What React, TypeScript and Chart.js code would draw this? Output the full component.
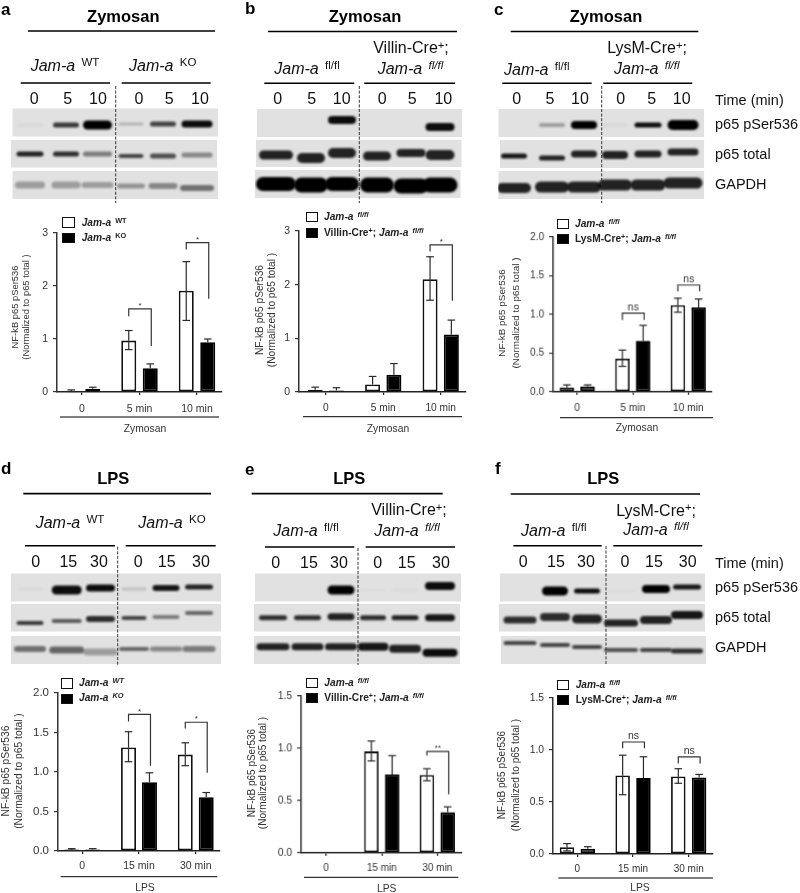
import React, { useEffect, useRef } from "react";
import { Chart, registerables } from "chart.js";

Chart.register(...registerables);

// ---------- chart data ----------
const zymosanTimes = ["0", "5 min", "10 min"];
const lpsTimes = ["0", "15 min", "30 min"];

const aWhite = [0.02, 0.97, 1.91];
const aBlack = [0.06, 0.45, 0.94];
const aWhiteHi = [0.04, 1.16, 2.46];
const aWhiteLo = [0.01, 0.8, 1.35];
const aBlackHi = [0.09, 0.53, 1.0];

const bWhite = [0.04, 0.14, 2.1];
const bBlack = [0.03, 0.32, 1.07];
const bWhiteHi = [0.09, 0.29, 2.52];
const bWhiteLo = [0.0, 0.0, 1.71];
const bBlackHi = [0.08, 0.53, 1.34];

const cWhite = [0.06, 0.43, 1.12];
const cBlack = [0.07, 0.66, 1.09];
const cWhiteHi = [0.09, 0.54, 1.21];
const cWhiteLo = [0.04, 0.33, 1.03];
const cBlackHi = [0.09, 0.86, 1.2];

const dWhite = [0.02, 1.31, 1.22];
const dBlack = [0.02, 0.87, 0.68];
const dWhiteHi = [0.03, 1.51, 1.37];
const dWhiteLo = [0.01, 1.13, 1.08];
const dBlackHi = [0.03, 0.99, 0.74];

const eWhite = [0, 0.97, 0.745];
const eBlack = [0, 0.75, 0.39];
const eWhiteHi = [0, 1.07, 0.805];
const eWhiteLo = [0, 0.88, 0.69];
const eBlackHi = [0, 0.93, 0.44];

const fWhite = [0.065, 0.755, 0.745];
const fBlack = [0.05, 0.73, 0.735];
const fWhiteHi = [0.1, 0.95, 0.82];
const fWhiteLo = [0.03, 0.57, 0.68];
const fBlackHi = [0.07, 0.935, 0.765];

// group, top of bracket, end of left leg, end of right leg, label
const aBrackets = [[1, 1.57, 1.43, 0.87, "*"], [2, 2.82, 2.69, 1.76, "*"]];
const bBrackets = [[2, 2.74, 2.62, 1.7, "*"]];
const cBrackets = [[1, 1.017, 0.93, 0.93, "ns"], [2, 1.38, 1.3, 1.3, "ns"]];
const dBrackets = [[1, 1.73, 1.64, 1.08, "*"], [2, 1.63, 1.55, 0.99, "*"]];
const eBrackets = [[2, 0.97, 0.93, 0.56, "**"]];
const fBrackets = [[1, 1.077, 1.016, 1.016, "ns"], [2, 0.933, 0.87, 0.87, "ns"]];

// ---------- blot band readings: [darkness, thickness, shift] per lane ----------
const aBands = [
  [[0.03, 3, 0], [0.75, 4, 0], [1, 8, 0], [0.2, 2, -1], [0.7, 4, -1], [0.95, 6, -1]],
  [[0.85, 4, 0], [0.8, 4, 0], [0.45, 4, 0], [0.7, 3, 2], [0.65, 4, 2], [0.4, 4, 1]],
  [[0.3, 6, 0], [0.3, 6, 0], [0.3, 5, 0], [0.35, 4, 1], [0.4, 5, 1], [0.5, 5, 3]],
];
const bBands = [
  [[0, 1, 0], [0, 1, 0], [0.95, 7, 0], [0, 1, 0], [0, 1, 0], [0.95, 7, 7]],
  [[0.85, 8, 0], [0.85, 9, 3], [0.85, 9, -2], [0.85, 8, 1], [0.85, 7, -2], [0.85, 9, 0]],
  [[1, 13, 0], [1, 14, 1], [1, 13, 0], [1, 14, 1], [1, 14, 2], [1, 14, 1]],
];
const cBands = [
  [[0, 1, 0], [0.3, 3, 0], [1, 7, 0], [0.03, 3, 0], [0.95, 4, 0], [1, 9, 0]],
  [[0.9, 4, 2], [0.85, 4, 4], [0.85, 6, 0], [0.85, 7, 1], [0.85, 6, 0], [0.85, 6, -2]],
  [[0.85, 9, 3], [0.85, 10, 2], [0.85, 10, 2], [0.85, 10, 0], [0.85, 10, 0], [0.85, 10, -2]],
];
const dBands = [
  [[0.03, 2, 0], [0.95, 8, 1], [0.95, 6, -1], [0.15, 2, 0], [0.9, 5, -1], [0.85, 4, -2]],
  [[0.75, 3, 3], [0.6, 3, 1], [0.8, 5, -1], [0.7, 3, -2], [0.45, 3, -3], [0.55, 3, -7]],
  [[0.5, 5, 0], [0.55, 6, 1], [0.3, 6, 3], [0.55, 3, 0], [0.4, 4, 0], [0.45, 5, 0]],
];
const eBands = [
  [[0, 1, 0], [0, 1, 0], [1, 8, 0], [0.02, 2, 0], [0.03, 2, 0], [0.95, 7, -4]],
  [[0.8, 4, 0], [0.8, 4, 0], [0.85, 6, -1], [0.8, 4, 0], [0.85, 4, 0], [0.9, 6, 0]],
  [[0.85, 6, 0], [0.85, 6, 0], [0.85, 6, 0], [0.9, 7, 0], [0.85, 7, 2], [0.95, 7, 6]],
];
const fBands = [
  [[0, 1, 0], [1, 8, 0], [0.95, 4, 0], [0.02, 2, 0], [1, 7, -2], [0.9, 4, -4]],
  [[0.8, 6, 0], [0.8, 7, -3], [0.85, 8, -1], [0.85, 6, 3], [0.85, 7, 0], [0.9, 7, -5]],
  [[0.7, 3, -6], [0.7, 3, -4], [0.7, 3, -2], [0.65, 3, 1], [0.7, 3, 1], [0.8, 4, 2]],
];

// ---------- page layout ----------
const FONT = '"Liberation Sans", Arial, sans-serif';
const INK = "#111";
const SOFT = "#333";

const PANELS: any[] = [
  {
    id: "a", cats: zymosanTimes, white: aWhite, black: aBlack, wHi: aWhiteHi, wLo: aWhiteLo, bHi: aBlackHi, brackets: aBrackets,
    yMax: 3, step: 1, dec: 0, left: 57, right: 222, top: 233.3, bottom: 392.3, c0: 82, c2: 197, pitch: 21.5, barW: 15,
    yFont: 10.5, xFont: 10.5, tickY: 408,
    ulX: [60, 219], ulY: 417, xName: "Zymosan", xNameX: 145, xNameY: 429, nameSize: 10.3,
    yT: [14.7, 26, 306.7, 9.4],
    lgd: { sx: 62, sw: 13, y1: [217, 228], y2: [233, 243], tx: 81.7, t1: 222.7, t2: 237.7 }, lgdKind: "wt",
    bands: aBands, rowY: [125, 154, 185], lanes: [30, 66, 97.5, 131, 163, 197], laneW: [27, 26, 29, 25, 26, 31], widen: [0, 0, 3],
    rows: [[12.3, 218.3, 108.3, 136.7], [11, 217.3, 140, 167.7], [12.3, 218.3, 171, 199]],
    dash: [115.7, 86, 203],
    letter: ["a", 1, 9], title: ["Zymosan", 123.3, 16], titleLine: [28, 215, 31],
    groupLines: [[20.7, 110, 83], [121.7, 210.7, 83]],
    times: [["0", 34.3], ["5", 67.7], ["10", 98], ["0", 139], ["5", 169.3], ["10", 200]], timeY: 99,
    g1: [30.7, 65.7, "WT"], g2: [129, 65.7, "KO"],
  },
  {
    id: "b", cats: zymosanTimes, white: bWhite, black: bBlack, wHi: bWhiteHi, wLo: bWhiteLo, bHi: bBlackHi, brackets: bBrackets,
    yMax: 3, step: 1, dec: 0, left: 299, right: 466, top: 231, bottom: 392.3, c0: 325.8, c2: 440.7, pitch: 21.3, barW: 15,
    yFont: 10.5, xFont: 10.2, tickY: 407,
    ulX: [303, 462], ulY: 416.7, xName: "Zymosan", xNameX: 388, xNameY: 429, nameSize: 10.3,
    yT: [259.5, 272, 310, 10.2],
    lgd: { sx: 305.7, sw: 12.6, y1: [212, 222], y2: [228, 238], tx: 324, t1: 217, t2: 233 }, lgdKind: "villin",
    bands: bBands, rowY: [120, 155, 184], lanes: [276, 311, 342, 377, 411, 440], laneW: [34, 28, 28, 28, 29, 29], widen: [0, 0, 6],
    rows: [[256.7, 462.3, 109, 137], [255.7, 461.7, 139.5, 167], [255, 460.7, 170, 198]],
    dash: [359.3, 86, 203],
    letter: ["b", 245, 8], title: ["Zymosan", 365, 16], titleLine: [268, 457, 31.5],
    groupLines: [[264.3, 354.3, 83.3], [364.3, 455, 83.3]],
    times: [["0", 277.7], ["5", 311.7], ["10", 341.7], ["0", 382.3], ["5", 412.3], ["10", 443.3]], timeY: 99.3,
    g1: [274.3, 69, "fl/fl"], g2: [377.7, 69, "fl/fl"], cre: ["Villin-Cre", 411, 48.3],
  },
  {
    id: "c", cats: zymosanTimes, white: cWhite, black: cBlack, wHi: cWhiteHi, wLo: cWhiteLo, bHi: cBlackHi, brackets: cBrackets,
    yMax: 2, step: 0.5, dec: 1, left: 553.3, right: 711.7, top: 237.3, bottom: 392, c0: 577.3, c2: 688, pitch: 20.7, barW: 14.5,
    yFont: 10, xFont: 10.2, tickY: 407,
    ulX: [560, 713], ulY: 417.7, xName: "Zymosan", xNameX: 637, xNameY: 428, nameSize: 10.3,
    yT: [502, 516, 313, 9.9],
    lgd: { sx: 556.7, sw: 12.4, y1: [219, 228.5], y2: [234, 244], tx: 575, t1: 224, t2: 239 }, lgdKind: "lysm",
    bands: cBands, rowY: [125, 154, 185], lanes: [514, 552, 584, 615, 648, 683], laneW: [26, 26, 26, 26, 27, 31], widen: [0, 0, 8],
    rows: [[498.3, 704.3, 109, 137], [500, 704.3, 140, 168], [498.3, 704.3, 171, 199]],
    dash: [601.7, 86, 203],
    letter: ["c", 494, 9], title: ["Zymosan", 606, 16], titleLine: [510.7, 698.3, 31.5],
    groupLines: [[502.3, 591.7, 83.3], [603.3, 692.3, 83.3]],
    times: [["0", 516.7], ["5", 550], ["10", 580], ["0", 620.7], ["5", 651.7], ["10", 681.7]], timeY: 99,
    g1: [504, 70, "fl/fl"], g2: [614, 69, "fl/fl"], cre: ["LysM-Cre", 647, 48],
    side: [[100, "Time (min)"], [124, "p65 pSer536"], [153.7, "p65 total"], [184, "GAPDH"]],
  },
  {
    id: "d", cats: lpsTimes, white: dWhite, black: dBlack, wHi: dWhiteHi, wLo: dWhiteLo, bHi: dBlackHi, brackets: dBrackets,
    yMax: 2, step: 0.5, dec: 1, left: 57.7, right: 220, top: 692.7, bottom: 851.3, c0: 82, c2: 195.7, pitch: 21, barW: 15,
    yFont: 11.5, xFont: 10.5, tickY: 865.7,
    ulX: [60.7, 217.3], ulY: 876.7, xName: "LPS", xNameX: 145, xNameY: 888, nameSize: 10.3,
    yT: [6, 18.7, 771, 10.3],
    lgd: { sx: 60.7, sw: 12, y1: [678, 689], y2: [694, 704], tx: 79, t1: 683, t2: 698 }, lgdKind: "wtItalic",
    bands: dBands, rowY: [589, 620, 649], lanes: [30, 66.7, 100.5, 134, 166, 199], laneW: [27, 30, 29, 25, 27, 28], widen: [0, 0, 5],
    rows: [[11, 221, 573.3, 601.7], [11, 221, 603.7, 631.7], [11, 221, 635.7, 664]],
    dash: [117.7, 546.7, 665],
    letter: ["d", 1, 468], title: ["LPS", 113.3, 478.3], titleLine: [23.3, 211, 493.7],
    groupLines: [[25, 115, 545.7], [125.7, 215.7, 545.7]],
    times: [["0", 35.7], ["15", 68.3], ["30", 99], ["0", 138.3], ["15", 166.7], ["30", 201]], timeY: 561.7,
    g1: [35.7, 523, "WT"], g2: [138.3, 523, "KO"],
  },
  {
    id: "e", cats: lpsTimes, white: eWhite, black: eBlack, wHi: eWhiteHi, wLo: eWhiteLo, bHi: eBlackHi, brackets: eBrackets,
    yMax: 1.5, step: 0.5, dec: 1, left: 301, right: 461.7, top: 696, bottom: 852.7, c0: 326, c2: 437, pitch: 20.8, barW: 14.5,
    yFont: 10.3, xFont: 10, tickY: 866.7,
    ulX: [304, 458.3], ulY: 877.3, xName: "LPS", xNameX: 386.7, xNameY: 888.7, nameSize: 10.3,
    yT: [251.7, 263.3, 773, 10],
    lgd: { sx: 306, sw: 12, y1: [678, 688], y2: [693, 703], tx: 324.3, t1: 683, t2: 698 }, lgdKind: "villin",
    bands: eBands, rowY: [590, 617.7, 646.7], lanes: [273, 307.5, 341, 373, 405, 440], laneW: [28, 27, 27, 26, 27, 30], widen: [0, 0, 5],
    rows: [[255, 461, 573.3, 601.7], [254, 460, 603.7, 631.7], [254, 460, 635.7, 664]],
    dash: [358, 548, 665],
    letter: ["e", 245, 469], title: ["LPS", 349.3, 478], titleLine: [251.7, 442.7, 493.7],
    groupLines: [[265, 354.3, 547], [365.7, 455, 547]],
    times: [["0", 275.7], ["15", 309], ["30", 339], ["0", 377.7], ["15", 406.7], ["30", 441]], timeY: 563.3,
    g1: [273.3, 531, "fl/fl"], g2: [374.3, 531, "fl/fl"], cre: ["Villin-Cre", 409, 510],
  },
  {
    id: "f", cats: lpsTimes, white: fWhite, black: fBlack, wHi: fWhiteHi, wLo: fWhiteLo, bHi: fBlackHi, brackets: fBrackets,
    yMax: 1.5, step: 0.5, dec: 1, left: 553.3, right: 713.3, top: 698.3, bottom: 854.3, c0: 577.7, c2: 689, pitch: 20.8, barW: 14.5,
    yFont: 10.3, xFont: 10, tickY: 869,
    ulX: [558.3, 713], ulY: 878, xName: "LPS", xNameX: 640, xNameY: 888, nameSize: 10.3,
    yT: [502.3, 515.7, 775, 10],
    lgd: { sx: 556.7, sw: 12.4, y1: [680, 690], y2: [695, 704.5], tx: 575.7, t1: 685, t2: 700 }, lgdKind: "lysm",
    bands: fBands, rowY: [591, 620, 649], lanes: [520, 555, 587, 621, 656, 687], laneW: [29, 26, 26, 30, 28, 28], widen: [0, 4, 4],
    rows: [[500, 705, 573.3, 601.7], [499, 705, 603.7, 631.7], [500.7, 706, 635.7, 664]],
    dash: [606, 546, 665],
    letter: ["f", 495, 467.7], title: ["LPS", 603.3, 478], titleLine: [510.7, 700, 494],
    groupLines: [[513.3, 601.7, 545.7], [613.3, 702.3, 545.7]],
    times: [["0", 523.3], ["15", 556], ["30", 586], ["0", 625], ["15", 654], ["30", 687.7]], timeY: 562.3,
    g1: [521, 530.7, "fl/fl"], g2: [623.3, 530, "fl/fl"], cre: ["LysM-Cre", 656, 510.7],
    side: [[563.3, "Time (min)"], [586.7, "p65 pSer536"], [616.7, "p65 total"], [647, "GAPDH"]],
  },
];

// ---------- overlay text ----------
function Txt({ x, y, size, bold, center, color, rotate, children }: any) {
  const tf = rotate
    ? "translate(-50%,-50%) rotate(-90deg)"
    : center
    ? "translate(-50%,-50%)"
    : "translateY(-50%)";
  return (
    <div
      style={{
        position: "absolute",
        left: x,
        top: y,
        fontSize: size,
        fontWeight: bold ? 700 : 400,
        color: color || INK,
        whiteSpace: "nowrap",
        transform: tf,
        lineHeight: 1,
      }}
    >
      {children}
    </div>
  );
}

const Sup = ({ children, italic, bold }: any) => (
  <span
    style={{
      fontSize: "0.72em",
      position: "relative",
      top: "-0.42em",
      marginLeft: "0.55em",
      fontStyle: italic ? "italic" : "normal",
      fontWeight: bold ? 700 : undefined,
    }}
  >
    {children}
  </span>
);

const LEGEND_TEXT: any = {
  wt: [["Jam-a", "WT", false], ["Jam-a", "KO", false]],
  wtItalic: [["Jam-a", "WT", true], ["Jam-a", "KO", true]],
  villin: [["Jam-a", "fl/fl", true], ["Jam-a", "fl/fl", true, "Villin-Cre"]],
  lysm: [["Jam-a", "fl/fl", true], ["Jam-a", "fl/fl", true, "LysM-Cre"]],
};

function Legend({ p }: any) {
  const l = p.lgd;
  const txt = LEGEND_TEXT[p.lgdKind];
  const row = (t: any, cy: number) => (
    <Txt x={l.tx} y={cy} size={10.2} bold color="#222">
      {t[3] ? (
        <span>
          {t[3]}
          <span style={{ fontSize: "0.7em", position: "relative", top: "-0.4em" }}>+</span>;{" "}
        </span>
      ) : null}
      <i>{t[0]}</i>
      <Sup italic={t[2]} bold>
        {t[1]}
      </Sup>
    </Txt>
  );
  const box = (y: number[], fill: string) => (
    <div
      style={{
        position: "absolute",
        left: l.sx,
        top: y[0],
        width: l.sw,
        height: y[1] - y[0],
        boxSizing: "border-box",
        border: "1.5px solid #111",
        background: fill,
      }}
    />
  );
  return (
    <>
      {box(l.y1, "#fff")}
      {box(l.y2, "#000")}
      {row(txt[0], l.t1)}
      {row(txt[1], l.t2)}
    </>
  );
}

function Header({ p }: any) {
  return (
    <>
      <Txt x={p.letter[1]} y={p.letter[2]} size={17} bold color="#000">
        {p.letter[0]}
      </Txt>
      <Txt x={p.title[1]} y={p.title[2]} size={16.5} bold center color="#000">
        {p.title[0]}
      </Txt>
      <Txt x={p.g1[0]} y={p.g1[1]} size={16}>
        <i>Jam-a</i>
        <Sup>{p.g1[2]}</Sup>
      </Txt>
      <Txt x={p.g2[0]} y={p.g2[1]} size={16}>
        <i>Jam-a</i>
        <Sup italic={!!p.cre}>{p.g2[2]}</Sup>
      </Txt>
      {p.cre ? (
        <Txt x={p.cre[1]} y={p.cre[2]} size={16} center>
          {p.cre[0]}
          <span style={{ fontSize: "0.7em", position: "relative", top: "-0.4em" }}>+</span>;
        </Txt>
      ) : null}
      {p.times.map((t: any, i: number) => (
        <Txt key={i} x={t[1]} y={p.timeY} size={16} center>
          {t[0]}
        </Txt>
      ))}
      {(p.side || []).map((s: any, i: number) => (
        <Txt key={i} x={715} y={s[0]} size={14.5}>
          {s[1]}
        </Txt>
      ))}
      <Txt x={p.yT[0]} y={p.yT[2]} size={p.yT[3]} rotate color={SOFT}>
        NF-kB p65 pSer536
      </Txt>
      <Txt x={p.yT[1]} y={p.yT[2]} size={p.yT[3]} rotate color={SOFT}>
        (Normalized to p65 total )
      </Txt>
      <Txt x={p.xNameX} y={p.xNameY} size={p.nameSize} center color={SOFT}>
        {p.xName}
      </Txt>
      <Legend p={p} />
    </>
  );
}

// ---------- blots, rules and dashed dividers ----------
function paintBackdrop(ctx: CanvasRenderingContext2D) {
  ctx.fillStyle = "#fff";
  ctx.fillRect(0, 0, 800, 893);
  const hline = (x0: number, x1: number, y: number, w: number) => {
    ctx.strokeStyle = "#000";
    ctx.lineWidth = w;
    ctx.beginPath();
    ctx.moveTo(x0, y);
    ctx.lineTo(x1, y);
    ctx.stroke();
  };
  for (const p of PANELS) {
    p.rows.forEach((r: number[], ri: number) => {
      ctx.save();
      ctx.beginPath();
      ctx.rect(r[0], r[2], r[1] - r[0], r[3] - r[2]);
      ctx.clip();
      ctx.fillStyle = "#e1e1e1";
      ctx.fillRect(r[0], r[2], r[1] - r[0], r[3] - r[2]);
      ctx.filter = "blur(1.1px)";
      p.bands[ri].forEach((b: number[], li: number) => {
        if (b[0] <= 0) return;
        const w = p.laneW[li] + p.widen[ri];
        const th = b[1] + 1;
        const cx = p.lanes[li];
        const cy = p.rowY[ri] + b[2];
        ctx.fillStyle = `rgba(0,0,0,${b[0]})`;
        ctx.beginPath();
        ctx.roundRect(cx - w / 2, cy - th / 2, w, th, th / 2);
        ctx.fill();
      });
      ctx.restore();
    });
    hline(p.titleLine[0], p.titleLine[1], p.titleLine[2], 1.7);
    p.groupLines.forEach((g: number[]) => hline(g[0], g[1], g[2], 1.6));
    hline(p.ulX[0], p.ulX[1], p.ulY, 1);
    ctx.save();
    ctx.strokeStyle = "#333";
    ctx.lineWidth = 1;
    ctx.setLineDash([3, 1.6]);
    ctx.beginPath();
    ctx.moveTo(p.dash[0], p.dash[1]);
    ctx.lineTo(p.dash[0], p.dash[2]);
    ctx.stroke();
    ctx.restore();
  }
}

// ---------- bar chart for one panel ----------
const AXIS_W = 40;
const PAD_TOP = 12;
const PAD_RIGHT = 8;
const AXIS_H = 30;

function BarPanel({ p }: any) {
  const ref = useRef<HTMLCanvasElement>(null);
  const width = AXIS_W + (p.right - p.left) + PAD_RIGHT;
  const height = PAD_TOP + (p.bottom - p.top) + AXIS_H;
  useEffect(() => {
    const spacing = (p.c2 - p.c0) / 2;
    const marks = {
      id: "marks",
      afterDatasetsDraw(chart: any) {
        const { ctx, scales } = chart;
        const y = scales.y;
        const wm = chart.getDatasetMeta(0).data;
        const bm = chart.getDatasetMeta(1).data;
        ctx.save();
        ctx.strokeStyle = "#2a2a2a";
        ctx.lineWidth = 1.2;
        const seg = (x0: number, y0: number, x1: number, y1: number) => {
          ctx.beginPath();
          ctx.moveTo(x0, y0);
          ctx.lineTo(x1, y1);
          ctx.stroke();
        };
        const err = (x: number, from: number, to: number) => {
          if (to === from) return;
          const a = y.getPixelForValue(from);
          const b = y.getPixelForValue(to);
          seg(x, a, x, b);
          seg(x - 3.8, b, x + 3.8, b);
        };
        p.white.forEach((v: number, i: number) => {
          if (!v) return;
          err(wm[i].x, v, p.wHi[i]);
          if (p.wLo[i] > 0) err(wm[i].x, v, p.wLo[i]);
          err(bm[i].x, p.black[i], p.bHi[i]);
        });
        ctx.strokeStyle = "#333";
        for (const [g, topV, lV, rV, label] of p.brackets) {
          const x0 = wm[g].x;
          const x1 = bm[g].x + 1;
          const t = y.getPixelForValue(topV);
          ctx.beginPath();
          ctx.moveTo(x0, y.getPixelForValue(lV));
          ctx.lineTo(x0, t);
          ctx.lineTo(x1, t);
          ctx.lineTo(x1, y.getPixelForValue(rV));
          ctx.stroke();
          ctx.fillStyle = "#333";
          ctx.textAlign = "center";
          ctx.textBaseline = "middle";
          const star = label !== "ns";
          ctx.font = `${star ? 8 : 10.5}px ${FONT}`;
          ctx.fillText(label, (x0 + x1) / 2, t - (star ? 3 : 6));
        }
        ctx.restore();
      },
    };
    const chart = new Chart(ref.current as HTMLCanvasElement, {
      type: "bar",
      data: {
        labels: [0, 1, 2] as any,
        datasets: [
          { data: p.white, backgroundColor: "#fff", borderColor: "#111", borderWidth: 1.8, borderSkipped: false },
          { data: p.black, backgroundColor: "#000", borderColor: "#000", borderWidth: 1.8, borderSkipped: false },
        ],
      },
      options: {
        animation: false,
        responsive: false,
        devicePixelRatio: 1,
        layout: { padding: { left: 0, top: PAD_TOP, right: PAD_RIGHT, bottom: 0 } },
        datasets: { bar: { categoryPercentage: (2 * p.pitch) / spacing, barPercentage: p.barW / p.pitch } },
        plugins: { legend: { display: false }, tooltip: { enabled: false } },
        scales: {
          x: {
            type: "linear",
            offset: false,
            min: -(p.c0 - p.left) / spacing,
            max: (p.right - p.c0) / spacing,
            afterBuildTicks: (s: any) => {
              s.ticks = [0, 1, 2].map((value) => ({ value }));
            },
            afterFit: (s: any) => {
              s.height = AXIS_H;
            },
            border: { color: "#222", width: 1.6 },
            grid: { display: true, offset: false, drawOnChartArea: false, drawTicks: true, tickLength: 3, color: "#222", lineWidth: 1.2 },
            ticks: {
              autoSkip: false,
              maxRotation: 0,
              padding: Math.max(0, p.tickY - p.bottom - p.xFont / 2 - 3),
              color: SOFT,
              font: { family: FONT, size: p.xFont },
              callback: (v: any) => p.cats[v],
            },
          },
          y: {
            min: 0,
            max: p.yMax,
            afterFit: (s: any) => {
              s.width = AXIS_W;
            },
            afterBuildTicks: (s: any) => {
              const t = [];
              for (let i = 0; i <= Math.round(p.yMax / p.step); i++) t.push({ value: i * p.step });
              s.ticks = t;
            },
            border: { color: "#333", width: 1.5 },
            grid: { display: true, drawOnChartArea: false, drawTicks: true, tickLength: 4, color: "#333", lineWidth: 1.2 },
            ticks: {
              padding: 5,
              color: SOFT,
              font: { family: FONT, size: p.yFont },
              callback: (v: any) => Number(v).toFixed(p.dec),
            },
          },
        },
      } as any,
      plugins: [marks],
    });
    return () => chart.destroy();
  }, []);
  return (
    <canvas
      ref={ref}
      width={width}
      height={height}
      style={{ position: "absolute", left: p.left - AXIS_W, top: p.top - PAD_TOP, width, height }}
    />
  );
}

export default function App() {
  const back = useRef<HTMLCanvasElement>(null);
  useEffect(() => {
    document.body.style.margin = "0";
    const ctx = (back.current as HTMLCanvasElement).getContext("2d");
    if (ctx) paintBackdrop(ctx);
  }, []);
  return (
    <div
      style={{
        position: "relative",
        width: 800,
        height: 893,
        overflow: "hidden",
        background: "#fff",
        fontFamily: FONT,
        filter: "blur(0.35px)",
      }}
    >
      <canvas ref={back} width={800} height={893} style={{ position: "absolute", left: 0, top: 0 }} />
      {PANELS.map((p) => (
        <BarPanel key={p.id} p={p} />
      ))}
      {PANELS.map((p) => (
        <Header key={p.id} p={p} />
      ))}
    </div>
  );
}
